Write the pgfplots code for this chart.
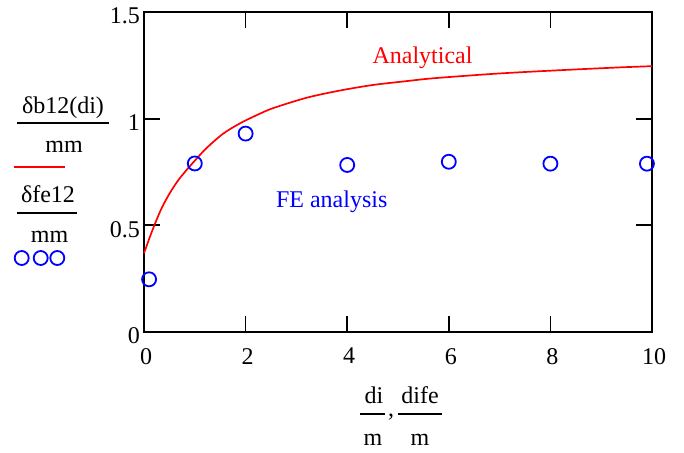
\documentclass[border=0pt]{standalone}
\usepackage{fontspec}
\setmainfont{Liberation Serif}
\usepackage{pgfplots}
\pgfplotsset{compat=1.18}
\begin{document}
\fontsize{24}{28}\selectfont
\begin{tikzpicture}[x=1pt,y=1pt]
\useasboundingbox (0,0) rectangle (684,452);
\begin{axis}[
  at={(144pt,120pt)}, anchor=south west,
  scale only axis, width=508pt, height=320pt,
  xmin=0, xmax=10, ymin=0, ymax=1.5,
  xtick={0,2,4,6,8,10}, ytick={0,0.5,1,1.5},
  tick align=inside, major tick length=16pt,
  axis line style={line width=1.7pt},
  every tick/.style={black, line width=1.7pt},
  /pgf/number format/assume math mode=true,
  ticklabel style={font=\fontsize{24}{28}\selectfont, inner sep=2pt},
  xticklabel style={yshift=-14pt, xshift=2pt},
  yticklabel style={xshift=-2pt, yshift=-4pt},
  clip=false,
]
\addplot[red, line width=1.7pt, no marks, smooth] coordinates {
  (0,0.369) (0.118,0.447) (0.217,0.508) (0.35,0.582) (0.51,0.652)
  (0.676,0.712) (0.84,0.760) (1.0,0.803) (1.23,0.862) (1.56,0.930)
  (1.89,0.978) (2.25,1.020) (2.55,1.050) (3.2,1.098) (3.86,1.132)
  (4.51,1.158) (5.17,1.176) (5.63,1.188) (6.28,1.200) (6.94,1.211)
  (7.6,1.220) (8.52,1.231) (9.43,1.241) (10,1.246)
};
\addplot[only marks, mark=o, mark size=7pt, blue, line width=1.8pt] coordinates {
  (0.1,0.247) (1,0.790) (2,0.930) (4,0.783) (6,0.798) (8,0.789) (9.9,0.789)
};
\end{axis}
% in-plot annotations
\node[red, anchor=base] at (422.5,388.7) {Analytical};
\node[blue, anchor=base] at (331.7,244.7) {FE analysis};
% y-axis label (Mathcad style)
\node[anchor=base] at (63,338) {δb12(di)};
\draw[line width=1.7pt] (17,329.3) -- (109,329.3);
\node[anchor=base] at (64,299.3) {mm};
\draw[red, line width=1.8pt] (14,285.3) -- (65,285.3);
\node[anchor=base] at (48,249) {δfe12};
\draw[line width=1.7pt] (17,239.3) -- (77,239.3);
\node[anchor=base] at (49.5,209) {mm};
\foreach \cx in {21.7,40.7,57.3} \draw[blue, line width=1.8pt] (\cx,194) circle (7);
% x-axis label
\node[anchor=base] at (374,49) {di};
\draw[line width=1.7pt] (360,38) -- (385,38);
\node[anchor=base] at (373,7) {m};
\node[anchor=base] at (391,36) {,};
\node[anchor=base] at (420,49) {dife};
\draw[line width=1.7pt] (398,38) -- (442,38);
\node[anchor=base] at (420,7) {m};
\end{tikzpicture}
\end{document}
